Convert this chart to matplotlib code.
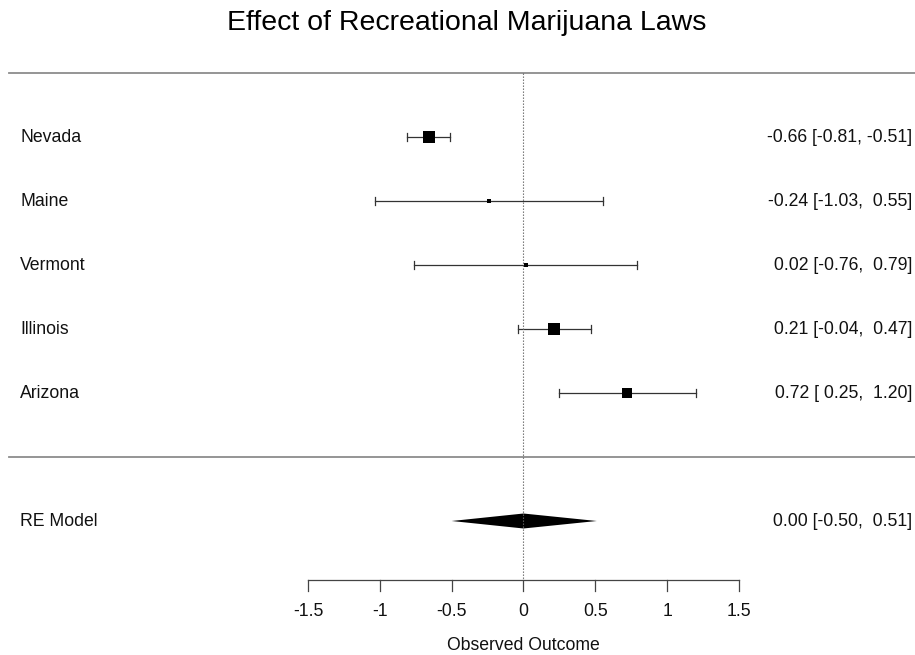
import matplotlib
matplotlib.use("Agg")
import matplotlib.pyplot as plt
import numpy as np

plt.rcParams["font.family"] = ["Liberation Sans", "DejaVu Sans"]

# study estimates with 95% CI
studies = ["Nevada", "Maine", "Vermont", "Illinois", "Arizona"]
est = [-0.66, -0.24, 0.02, 0.21, 0.72]
ci_lo = [-0.81, -1.03, -0.76, -0.04, 0.25]
ci_hi = [-0.51, 0.55, 0.79, 0.47, 1.20]

# pooled random-effects estimate
re_label = "RE Model"
re_est, re_lo, re_hi = 0.00, -0.50, 0.51

xticks = [-1.5, -1, -0.5, 0, 0.5, 1, 1.5]
xtick_labels = ["-1.5", "-1", "-0.5", "0", "0.5", "1", "1.5"]

# marker size from random-effects weights (DL tau^2), scaled 0.5 .. 1.5
est_a = np.array(est)
se = (np.array(ci_hi) - np.array(ci_lo)) / (2 * 1.96)
vi = se ** 2
w = 1 / vi
mu = np.sum(w * est_a) / np.sum(w)
Q = np.sum(w * (est_a - mu) ** 2)
C = np.sum(w) - np.sum(w ** 2) / np.sum(w)
tau2 = max(0.0, (Q - (len(est) - 1)) / C)
wi = 1 / (vi + tau2)
psize = (wi - wi.min()) / (wi.max() - wi.min()) + 0.5

W, H = 915, 655
fig = plt.figure(figsize=(W / 100, H / 100), dpi=100)
ax = fig.add_axes([0, 0, 1, 1])
x0, ppu = 523.5, 143.7   # pixel of x=0, pixels per unit
y1, ppr = 393, 64        # pixel of row 1, pixels per row
ax.set_xlim(-x0 / ppu, (W - x0) / ppu)
ax.set_ylim(1 - (H - y1) / ppr, 1 + y1 / ppr)
ax.axis("off")

def yrow(py):
    return 1 + (y1 - py) / ppr

fs = 12.7
ink = "#111111"
rows = np.arange(len(studies), 0, -1)
top, sep, re_row = len(studies) + 1, 0, -1
axis_y = yrow(580)

# separators
ax.plot([9 / ppu - x0 / ppu, (W - x0) / ppu], [top, top], color="#8c8c8c", lw=1.3)
ax.plot([9 / ppu - x0 / ppu, (W - x0) / ppu], [sep, sep], color="#8c8c8c", lw=1.3)

# reference line at zero
ax.plot([0, 0], [top, axis_y], color="#666666", lw=0.8, linestyle=(0, (1.2, 1.5)), zorder=5)

cap = 0.055
for r, e, lo, hi, ps, name in zip(rows, est, ci_lo, ci_hi, psize, studies):
    ax.plot([lo, hi], [r, r], color="#333333", lw=0.9)
    ax.plot([lo, lo], [r - cap, r + cap], color="#333333", lw=0.9)
    ax.plot([hi, hi], [r - cap, r + cap], color="#333333", lw=0.9)
    ax.plot(e, r, marker="s", color="black", markersize=6.1 * ps, markeredgewidth=0)
    ax.text(20 / W, r - 0.015, name, transform=ax.get_yaxis_transform(), fontsize=fs,
            va="center", ha="left", color=ink)
    ax.text(912 / W, r - 0.015, f"{e:5.2f} [{lo:5.2f}, {hi:5.2f}]",
            transform=ax.get_yaxis_transform(), fontsize=fs, va="center", ha="right", color=ink)

# pooled diamond
dh = 0.117
ax.fill([re_lo, re_est, re_hi, re_est], [re_row, re_row + dh, re_row, re_row - dh],
        color="black", lw=0)
ax.text(20 / W, re_row - 0.015, re_label, transform=ax.get_yaxis_transform(), fontsize=fs,
        va="center", ha="left", color=ink)
ax.text(912 / W, re_row - 0.015, f"{re_est:5.2f} [{re_lo:5.2f}, {re_hi:5.2f}]",
        transform=ax.get_yaxis_transform(), fontsize=fs, va="center", ha="right", color=ink)

# x axis
ax.plot([xticks[0], xticks[-1]], [axis_y, axis_y], color="#444444", lw=0.9)
for t, lab in zip(xticks, xtick_labels):
    ax.plot([t, t], [axis_y, yrow(591)], color="#444444", lw=0.9)
    ax.text(t, yrow(612), lab, fontsize=fs, ha="center", va="center", color=ink)
ax.text(0, yrow(645), "Observed Outcome", fontsize=fs, ha="center", va="center", color=ink)

ax.text(467 / W, yrow(23), "Effect of Recreational Marijuana Laws",
        transform=ax.get_yaxis_transform(), fontsize=20.5, ha="center", va="center",
        color="black")

fig.savefig("out.png", dpi=100)
